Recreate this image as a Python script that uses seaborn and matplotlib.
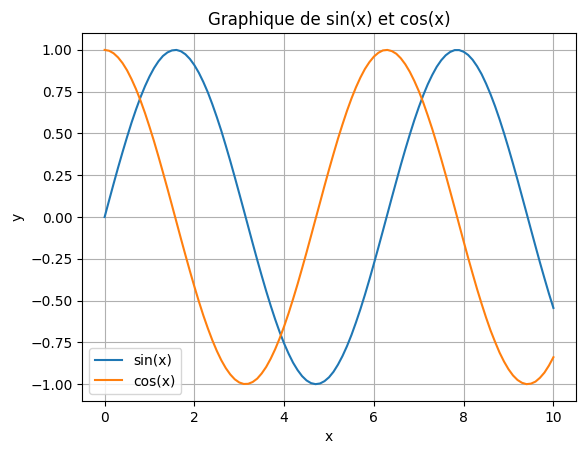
import matplotlib
matplotlib.use("Agg")
import matplotlib.pyplot as plt
import seaborn as sns
import pandas as pd

# valeurs (pas de 0.1)
x_vals = [0.0, 0.1, 0.2, 0.3, 0.4, 0.5, 0.6, 0.7, 0.8, 0.9,
          1.0, 1.1, 1.2, 1.3, 1.4, 1.5, 1.6, 1.7, 1.8, 1.9,
          2.0, 2.1, 2.2, 2.3, 2.4, 2.5, 2.6, 2.7, 2.8, 2.9,
          3.0, 3.1, 3.2, 3.3, 3.4, 3.5, 3.6, 3.7, 3.8, 3.9,
          4.0, 4.1, 4.2, 4.3, 4.4, 4.5, 4.6, 4.7, 4.8, 4.9,
          5.0, 5.1, 5.2, 5.3, 5.4, 5.5, 5.6, 5.7, 5.8, 5.9,
          6.0, 6.1, 6.2, 6.3, 6.4, 6.5, 6.6, 6.7, 6.8, 6.9,
          7.0, 7.1, 7.2, 7.3, 7.4, 7.5, 7.6, 7.7, 7.8, 7.9,
          8.0, 8.1, 8.2, 8.3, 8.4, 8.5, 8.6, 8.7, 8.8, 8.9,
          9.0, 9.1, 9.2, 9.3, 9.4, 9.5, 9.6, 9.7, 9.8, 9.9, 10.0]
sin_vals = [0.000, 0.100, 0.199, 0.296, 0.389, 0.479, 0.565, 0.644, 0.717, 0.783,
            0.841, 0.891, 0.932, 0.964, 0.985, 0.997, 1.000, 0.992, 0.974, 0.946,
            0.909, 0.863, 0.808, 0.746, 0.675, 0.598, 0.516, 0.427, 0.335, 0.239,
            0.141, 0.042, -0.058, -0.158, -0.256, -0.351, -0.443, -0.530, -0.612, -0.688,
            -0.757, -0.818, -0.872, -0.916, -0.952, -0.978, -0.994, -1.000, -0.996, -0.982,
            -0.959, -0.926, -0.883, -0.832, -0.773, -0.706, -0.631, -0.551, -0.465, -0.374,
            -0.279, -0.182, -0.083, 0.017, 0.117, 0.215, 0.312, 0.405, 0.494, 0.579,
            0.657, 0.729, 0.794, 0.850, 0.899, 0.938, 0.968, 0.988, 0.999, 0.999,
            0.989, 0.970, 0.941, 0.902, 0.855, 0.798, 0.734, 0.663, 0.585, 0.501,
            0.412, 0.319, 0.223, 0.124, 0.025, -0.075, -0.174, -0.272, -0.366, -0.458, -0.544]
cos_vals = [1.000, 0.995, 0.980, 0.955, 0.921, 0.878, 0.825, 0.765, 0.697, 0.622,
            0.540, 0.454, 0.362, 0.267, 0.170, 0.071, -0.029, -0.129, -0.227, -0.323,
            -0.416, -0.505, -0.589, -0.666, -0.737, -0.801, -0.857, -0.904, -0.942, -0.971,
            -0.990, -0.999, -0.998, -0.987, -0.967, -0.936, -0.897, -0.848, -0.791, -0.726,
            -0.654, -0.575, -0.490, -0.401, -0.307, -0.211, -0.112, -0.012, 0.087, 0.187,
            0.284, 0.378, 0.469, 0.554, 0.635, 0.709, 0.776, 0.835, 0.886, 0.927,
            0.960, 0.983, 0.997, 1.000, 0.993, 0.977, 0.950, 0.914, 0.869, 0.815,
            0.754, 0.685, 0.608, 0.527, 0.439, 0.347, 0.252, 0.154, 0.055, -0.046,
            -0.146, -0.244, -0.339, -0.432, -0.519, -0.602, -0.679, -0.747, -0.811, -0.865,
            -0.911, -0.948, -0.975, -0.992, -1.000, -0.997, -0.985, -0.962, -0.931, -0.889, -0.839]

df = pd.DataFrame({
    "x": x_vals * 2,
    "y": sin_vals + cos_vals,
    "courbe": ["sin(x)"] * len(x_vals) + ["cos(x)"] * len(x_vals),
})

fig, ax = plt.subplots(figsize=(5.87, 4.55), dpi=100)
fig.subplots_adjust(left=0.14, right=0.981, top=0.927, bottom=0.119)

sns.lineplot(data=df, x="x", y="y", hue="courbe", ax=ax,
             palette=["#1f77b4", "#ff7f0e"])

ax.set_title("Graphique de sin(x) et cos(x)")
ax.set_xlabel("x")
ax.set_ylabel("y")
ax.grid(True)
ax.legend(loc="lower left", title=None)

fig.savefig("out.png", dpi=100)
